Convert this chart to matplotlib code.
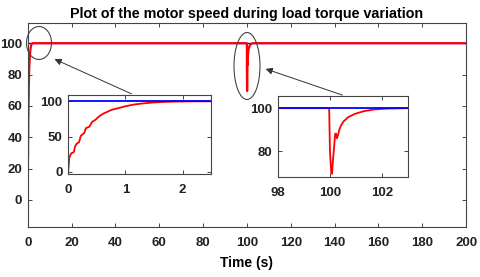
import matplotlib.pyplot as plt
from matplotlib.patches import Ellipse, FancyArrowPatch

plt.rcParams['font.family'] = ['Liberation Sans', 'DejaVu Sans']
plt.rcParams['font.weight'] = 'bold'

# speed reference
ref_t = [0, 200]
ref_w = [100, 100]

# start-up transient
t_start = [0, 0.02, 0.05, 0.1, 0.12, 0.15, 0.19, 0.22, 0.28, 0.31, 0.37, 0.42,
           0.48, 0.53, 0.6, 0.68, 0.76, 0.86, 1.0, 1.15, 1.3, 1.5, 1.7, 1.9, 2.2, 2.5]
w_start = [0, 20, 26, 28, 36, 40, 42, 51, 55, 62, 64, 71,
           74, 78, 82, 85, 88, 90, 93, 95.5, 97, 98.5, 99.3, 99.7, 100, 100]

# load torque step around t = 100 s
t_dip = [99.0, 99.97, 100.0, 100.05, 100.08, 100.11, 100.16, 100.2, 100.23, 100.27,
         100.31, 100.36, 100.42, 100.52, 100.7, 100.95, 101.3, 101.7, 102.2, 103, 200]
w_dip = [100, 100, 80, 70, 69.5, 75, 82, 88, 88.2, 86, 87.5, 90, 91.8, 93.8,
         95.8, 97.3, 98.6, 99.4, 99.8, 100, 100]

t_all = t_start + t_dip
w_all = w_start + w_dip

edge = '#444444'


def style(ax):
    ax.tick_params(direction='in', top=True, right=True, length=3, width=0.7,
                   colors=edge, labelcolor='#222222', labelsize=9.5)
    ax.tick_params(axis='x', pad=7.5)
    ax.tick_params(axis='y', pad=4)
    for s in ax.spines.values():
        s.set_color(edge)
        s.set_linewidth(0.8)


fig = plt.figure(figsize=(4.8, 2.77), dpi=100)
ax = fig.add_axes([0.058, 0.1805, 0.913, 0.736])
ax.plot(ref_t, ref_w, color='blue', lw=1.0)
ax.plot(t_all, w_all, color='red', lw=1.6)
ax.set_xlim(0, 200)
ax.set_ylim(-17.3, 112.8)
ax.set_xticks(range(0, 201, 20))
ax.set_yticks(range(0, 101, 20))
style(ax)
ax.set_title('Plot of the motor speed during load torque variation',
             fontsize=10.3, fontweight='bold', pad=4)
ax.set_xlabel('Time (s)', fontsize=10, fontweight='bold', labelpad=5)

ins1 = fig.add_axes([0.142, 0.372, 0.298, 0.285])
ins1.plot(t_all, w_all, color='red', lw=1.3)
ins1.plot(ref_t, ref_w, color='blue', lw=1.3)
ins1.set_xlim(0, 2.5)
ins1.set_ylim(-3, 109)
ins1.set_xticks([0, 1, 2])
ins1.set_yticks([0, 50, 100])
style(ins1)

ins2 = fig.add_axes([0.579, 0.361, 0.271, 0.292])
ins2.plot(t_all, w_all, color='red', lw=1.3)
ins2.plot(ref_t, ref_w, color='blue', lw=1.3)
ins2.set_xlim(98, 103)
ins2.set_ylim(68, 105.6)
ins2.set_xticks([98, 100, 102])
ins2.set_yticks([80, 100])
style(ins2)


def px(x, y):
    return (x / 480, 1 - y / 277)


for (cx, cy), w, h in [((39, 43), 25, 33), ((247, 66), 26, 67)]:
    fig.patches.append(Ellipse(px(cx, cy), w / 480, h / 277, fill=False,
                               edgecolor=edge, lw=0.8, transform=fig.transFigure))

for start, end in [((134, 95), (52, 58)), ((345, 96), (263, 68))]:
    fig.patches.append(FancyArrowPatch(px(*start), px(*end), arrowstyle='-|>',
                                       mutation_scale=10, color='#333333', lw=0.7,
                                       transform=fig.transFigure))

fig.savefig('out.png', dpi=100)
